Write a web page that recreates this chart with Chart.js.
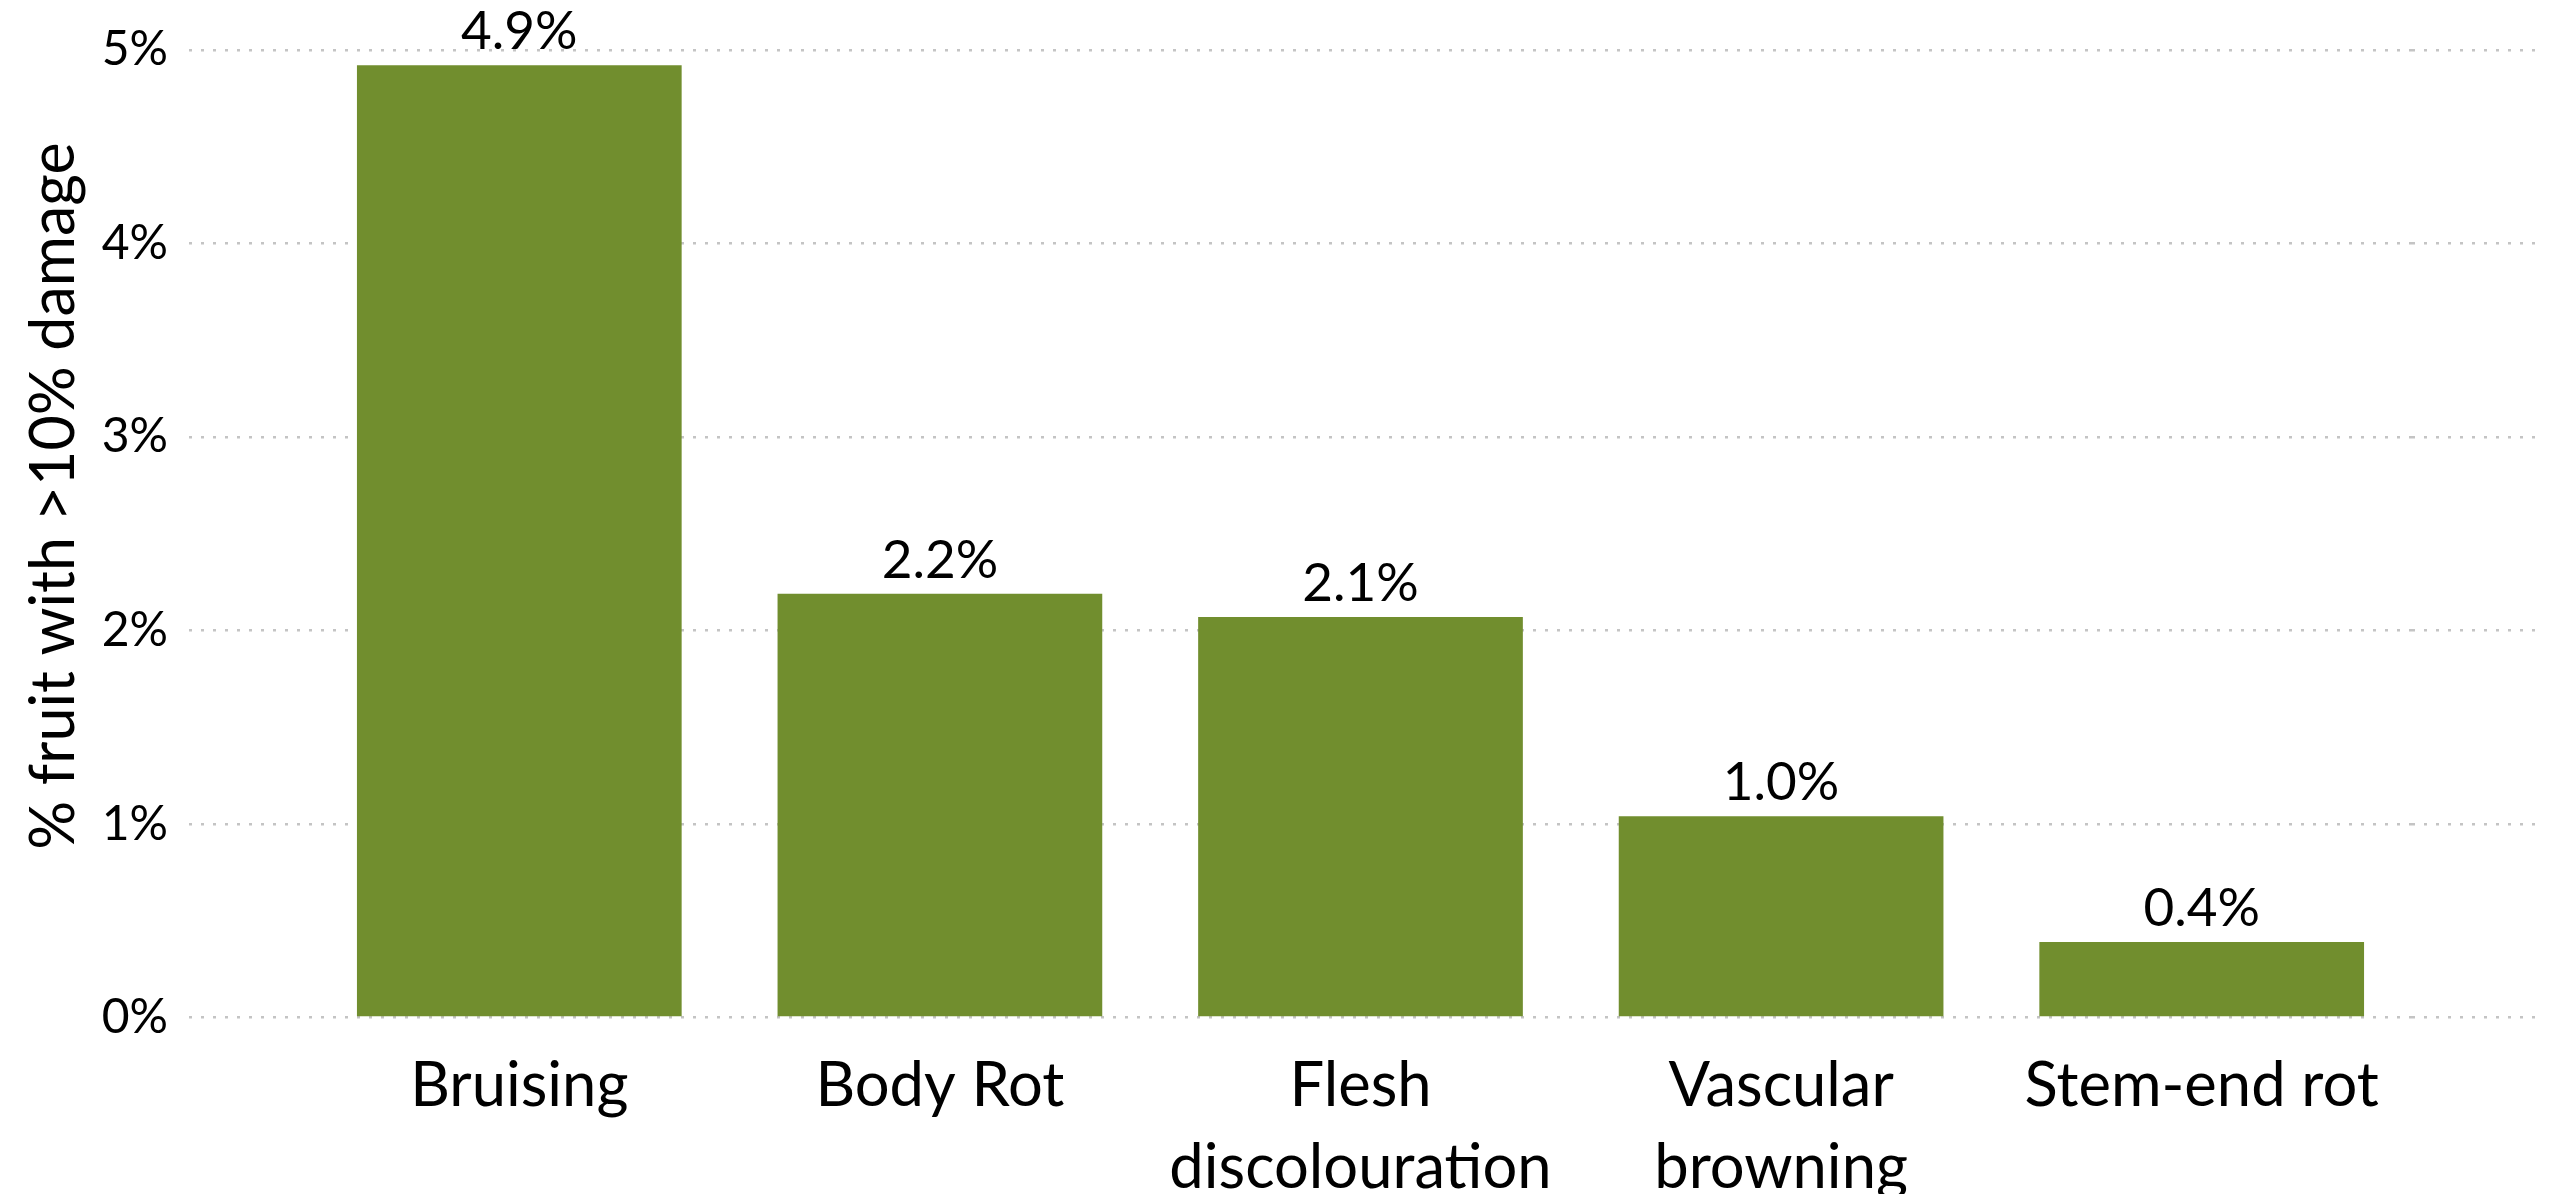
<!DOCTYPE html>
<html><head><meta charset="utf-8">
<script src="https://cdn.jsdelivr.net/npm/chart.js@4.4.1/dist/chart.umd.min.js"></script>
<style>html,body{margin:0;padding:0;background:#fff;overflow:hidden}</style>
</head><body>
<canvas id="c" width="2557" height="1194"></canvas>
<script>
const categories = ['Bruising', 'Body Rot', ['Flesh', 'discolouration'], ['Vascular', 'browning'], 'Stem-end rot'];
const damagePct = [4.92, 2.19, 2.07, 1.04, 0.39];
const yTickValues = [0, 1, 2, 3, 4, 5];
const yTitle = '% fruit with >10% damage';

const FONT = 'Lato, "Open Sans", sans-serif';
const GRID = {color: '#c4c4c4', lineWidth: 2.5, dash: [3, 9]};

const valueLabels = {
  id: 'valueLabels',
  afterDatasetsDraw(chart) {
    const ctx = chart.ctx;
    const meta = chart.getDatasetMeta(0);
    ctx.save();
    ctx.font = '53px ' + FONT;
    ctx.fillStyle = '#000';
    ctx.textAlign = 'center';
    ctx.textBaseline = 'alphabetic';
    meta.data.forEach((bar, i) => {
      ctx.fillText(damagePct[i].toFixed(1) + '%', bar.x, bar.y - 16);
    });
    ctx.restore();
  }
};

const axisTitle = {
  id: 'axisTitle',
  afterDraw(chart) {
    const ctx = chart.ctx;
    ctx.save();
    ctx.font = '61px ' + FONT;
    ctx.fillStyle = '#000';
    ctx.textAlign = 'center';
    ctx.textBaseline = 'middle';
    ctx.translate(54, 496);
    ctx.rotate(-Math.PI / 2);
    ctx.fillText(yTitle, 0, 0);
    ctx.restore();
  }
};

new Chart(document.getElementById('c'), {
  type: 'bar',
  data: {
    labels: categories,
    datasets: [{
      data: damagePct,
      backgroundColor: '#718e2e',
      borderWidth: 0,
      categoryPercentage: 1,
      barPercentage: 0.772
    }]
  },
  options: {
    responsive: false,
    animation: false,
    devicePixelRatio: 1,
    layout: {padding: {top: 49, left: 0, right: 0, bottom: 0}},
    plugins: {legend: {display: false}, tooltip: {enabled: false}},
    scales: {
      x: {
        grid: {display: false},
        border: {display: false},
        ticks: {color: '#000', font: {family: FONT, size: 61.5, lineHeight: 1.33}, padding: 20, maxRotation: 0, autoSkip: false},
        afterFit(s) { s.height = 176.4; }
      },
      y: {
        position: 'left',
        min: 0, max: 5,
        afterBuildTicks(s) { s.ticks = yTickValues.map(v => ({value: v})); },
        grid: {color: GRID.color, lineWidth: GRID.lineWidth, tickLength: 120, drawTicks: true, tickColor: GRID.color, tickWidth: GRID.lineWidth, tickBorderDash: GRID.dash},
        border: {display: false, dash: GRID.dash},
        ticks: {color: '#000', font: {family: FONT, size: 48}, padding: 21, callback: v => v + '%'},
        title: {display: false},
        afterFit(s) { s.width = 309; }
      },
      y2: {
        position: 'right',
        min: 0, max: 5,
        afterBuildTicks(s) { s.ticks = yTickValues.map(v => ({value: v})); },
        grid: {drawOnChartArea: false, color: GRID.color, lineWidth: GRID.lineWidth, tickLength: 131, drawTicks: true, tickColor: GRID.color, tickWidth: GRID.lineWidth, tickBorderDash: GRID.dash},
        border: {display: false, dash: GRID.dash},
        ticks: {display: false},
        afterFit(s) { s.width = 145; }
      }
    }
  },
  plugins: [valueLabels, axisTitle]
});
</script>
</body></html>
